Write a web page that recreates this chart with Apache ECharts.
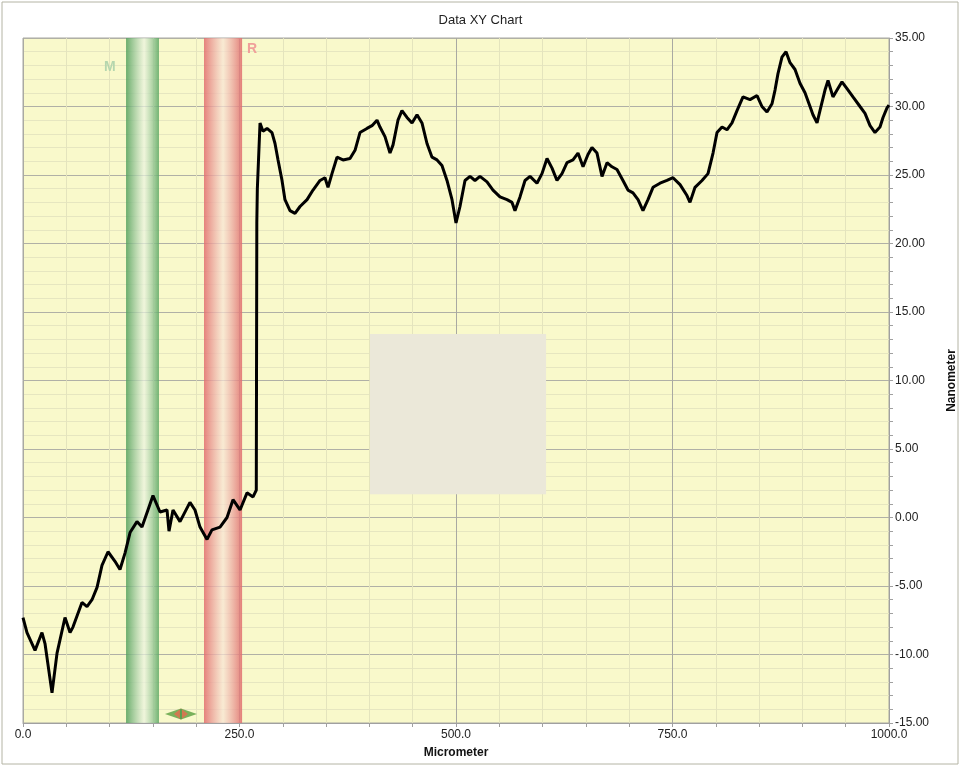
<!DOCTYPE html>
<html>
<head>
<meta charset="utf-8">
<script src="https://cdn.jsdelivr.net/npm/echarts@6/dist/echarts.min.js"></script>
<style>html,body{margin:0;padding:0;background:#fff;}#c{width:961px;height:766px;}</style>
</head>
<body>
<div id="c"></div>
<script>
// ---- data ----
var titleText = 'Data XY Chart';
var xName = 'Micrometer';
var yName = 'Nanometer';
var xValues = [0.0,4.6,13.9,21.9,25.4,33.5,39.3,48.5,54.3,57.7,68.1,73.9,79.7,85.5,91.2,98.2,106.2,112.0,117.8,123.6,131.6,137.4,144.3,150.1,158.2,166.3,168.6,173.2,181.3,192.8,198.6,204.4,212.5,218.2,227.5,235.6,242.5,250.6,258.7,265.6,269.4,270.0,270.6,273.7,277.1,281.8,287.5,291.0,294.5,299.1,302.5,308.3,314.1,319.9,328.0,334.9,343.0,348.7,352.2,356.8,362.6,369.5,377.6,383.4,389.1,397.2,403.0,408.8,412.2,418.0,423.8,427.3,433.0,437.6,443.4,449.2,455.0,460.7,466.5,472.3,478.1,483.8,489.6,495.4,500.0,504.6,510.4,516.2,521.9,527.7,535.8,542.7,550.8,558.9,564.7,568.1,573.9,579.7,585.5,593.5,599.3,605.1,610.9,616.6,622.4,628.2,635.1,640.9,646.7,652.4,657.0,662.8,668.6,674.4,680.1,685.9,692.8,698.6,704.4,710.2,715.9,721.7,727.5,735.6,743.6,750.6,758.7,766.7,770.2,776.0,784.1,791.0,796.8,801.4,807.2,812.9,818.7,824.5,831.4,839.5,847.6,853.3,859.1,864.9,868.4,871.8,876.4,881.1,885.7,891.5,897.2,903.0,908.8,912.2,916.9,920.3,926.1,929.6,935.3,940.0,945.7,951.5,958.4,966.5,972.3,978.1,983.8,989.6,993.1,997.7,1000.0];
var yValues = [-7.3,-8.4,-9.7,-8.4,-9.2,-12.8,-9.9,-7.3,-8.4,-8.0,-6.2,-6.5,-6.0,-5.1,-3.5,-2.5,-3.2,-3.8,-2.6,-1.1,-0.3,-0.7,0.55,1.6,0.4,0.55,-1.0,0.55,-0.3,1.1,0.55,-0.7,-1.6,-0.9,-0.7,0.0,1.3,0.55,1.8,1.5,2.0,21.5,24.0,28.8,28.2,28.4,28.1,27.3,26.1,24.6,23.2,22.4,22.2,22.7,23.2,23.9,24.6,24.8,24.1,25.1,26.3,26.1,26.2,26.8,28.1,28.4,28.6,29.0,28.5,27.8,26.6,27.2,29.0,29.7,29.2,28.8,29.4,28.8,27.3,26.3,26.1,25.7,24.6,23.2,21.5,22.7,24.6,24.9,24.6,24.9,24.5,23.9,23.4,23.2,23.0,22.4,23.4,24.6,24.9,24.4,25.1,26.2,25.5,24.6,25.1,25.9,26.1,26.6,25.6,26.5,27.0,26.6,24.9,25.9,25.6,25.4,24.6,23.9,23.7,23.2,22.4,23.2,24.1,24.4,24.6,24.8,24.3,23.5,23.0,24.1,24.6,25.1,26.6,28.1,28.5,28.3,28.8,29.7,30.7,30.5,30.8,30.0,29.6,30.2,31.2,32.4,33.6,34.0,33.2,32.7,31.7,31.0,30.0,29.4,28.8,29.7,31.2,31.9,30.7,31.2,31.8,31.3,30.7,30.0,29.5,28.6,28.1,28.5,29.2,29.9,30.1];
var xTicks = [0, 250, 500, 750, 1000];
var yTicks = [-15, -10, -5, 0, 5, 10, 15, 20, 25, 30, 35];
var bandM = [119, 157];      // green cursor band (x range)
var bandR = [209, 253];      // red cursor band (x range)
var cursorR = 251.5;         // red cursor line
var panel = [[400.7, 13.4], [604, 1.7]]; // grey box corners
var marker = [182.4, -14.35];            // diamond marker

var lineData = xValues.map(function (x, i) { return [x, yValues[i]]; });
var FONT = '"Liberation Sans", Arial, sans-serif';

var chart = echarts.init(document.getElementById('c'), null, {renderer: 'canvas'});
var option = {
  backgroundColor: '#ffffff',
  animation: false,
  title: {
    text: titleText, left: 'center', top: 9,
    textStyle: {fontFamily: FONT, fontSize: 13, fontWeight: 'normal', color: '#222'}
  },
  grid: {
    left: 23, right: 72, top: 38, bottom: 43,
    containLabel: false, outerBoundsMode: 'none',
    show: true, backgroundColor: '#f9f9cb', borderColor: '#a8a8a0', borderWidth: 1
  },
  xAxis: {
    type: 'value', min: xTicks[0], max: xTicks[xTicks.length - 1], interval: 250,
    name: xName, nameLocation: 'middle', nameGap: 24,
    nameTextStyle: {fontFamily: FONT, fontSize: 12, fontWeight: 'bold', color: '#111'},
    axisLine: {show: true, onZero: false, lineStyle: {color: '#a0a0a0'}},
    axisTick: {show: true, length: 4, lineStyle: {color: '#a0a0a0'}},
    minorTick: {show: true, splitNumber: 5, length: 4, lineStyle: {color: '#a0a0a0'}},
    axisLabel: {fontFamily: FONT, fontSize: 12, color: '#222', margin: 6,
      formatter: function (v) { return v.toFixed(1); }},
    splitLine: {show: true, lineStyle: {color: '#a9a9a2', width: 1}},
    minorSplitLine: {show: true, lineStyle: {color: '#e4e4bd', width: 1}}
  },
  yAxis: {
    type: 'value', position: 'right', min: yTicks[0], max: yTicks[yTicks.length - 1], interval: 5,
    name: yName, nameLocation: 'middle', nameGap: 57, nameRotate: 90,
    nameTextStyle: {fontFamily: FONT, fontSize: 12, fontWeight: 'bold', color: '#111'},
    axisLine: {show: true, onZero: false, lineStyle: {color: '#a0a0a0'}},
    axisTick: {show: true, length: 4, lineStyle: {color: '#a0a0a0'}},
    minorTick: {show: true, splitNumber: 5, length: 4, lineStyle: {color: '#a0a0a0'}},
    axisLabel: {fontFamily: FONT, fontSize: 12, color: '#222', margin: 6,
      formatter: function (v) { return v.toFixed(2); }},
    splitLine: {show: true, lineStyle: {color: '#b0b0a6', width: 1}},
    minorSplitLine: {show: true, lineStyle: {color: '#e6e6c0', width: 1}}
  },
  series: [
    {
      type: 'line', name: 'profile', data: lineData, showSymbol: false, z: 2,
      lineStyle: {color: '#000', width: 3}
    },
    {
      type: 'line', name: 'overlay', data: [], z: 3, silent: true,
      markArea: {
        silent: true,
        data: [
          [{xAxis: bandM[0], yAxis: yTicks[0], itemStyle: {color: {type: 'linear', x: 0, y: 0, x2: 1, y2: 0, colorStops: [
            {offset: 0, color: 'rgba(82,160,92,0.85)'},
            {offset: 0.55, color: 'rgba(236,244,226,0.7)'},
            {offset: 1, color: 'rgba(92,168,100,0.85)'}]}}},
           {xAxis: bandM[1], yAxis: yTicks[yTicks.length - 1]}],
          [{xAxis: bandR[0], yAxis: yTicks[0], itemStyle: {color: {type: 'linear', x: 0, y: 0, x2: 1, y2: 0, colorStops: [
            {offset: 0, color: 'rgba(226,110,110,0.85)'},
            {offset: 0.5, color: 'rgba(248,228,214,0.7)'},
            {offset: 1, color: 'rgba(224,108,108,0.85)'}]}}},
           {xAxis: bandR[1], yAxis: yTicks[yTicks.length - 1]}],
          [{xAxis: panel[0][0], yAxis: panel[0][1], itemStyle: {color: '#ebe8d9', opacity: 1}},
           {xAxis: panel[1][0], yAxis: panel[1][1]}]
        ]
      },
      markLine: {
        silent: true, symbol: ['none', 'none'], label: {show: false},
        lineStyle: {color: '#d05a5a', width: 2, type: 'solid'},
        data: [[{coord: [cursorR, yTicks[0]]}, {coord: [cursorR, yTicks[yTicks.length - 1] + 0.2]}]]
      },
      markPoint: {
        silent: true,
        data: [
          {coord: marker, symbol: 'diamond', symbolSize: [32, 11], itemStyle: {color: '#6aa84f', opacity: 0.9}, label: {show: false}},
          {coord: marker, symbol: 'diamond', symbolSize: [14, 11], itemStyle: {color: '#e07050', opacity: 0.85}, label: {show: false}},
          {coord: marker, symbol: 'rect', symbolSize: [2, 10], itemStyle: {color: '#5aa050'}, label: {show: false}}
        ]
      }
    }
  ],
  graphic: [
    {type: 'rect', shape: {x: 2, y: 2, width: 956, height: 762}, style: {fill: 'none', stroke: '#b4b4a4', lineWidth: 1}, z: 100, silent: true},
    {type: 'text', x: 104, y: 60, style: {text: 'M', fill: '#b5d6ae', font: 'bold 14px ' + FONT}, z: 100, silent: true},
    {type: 'text', x: 247, y: 42, style: {text: 'R', fill: '#f0a09a', font: 'bold 14px ' + FONT}, z: 100, silent: true}
  ]
};
chart.setOption(option);
</script>
</body>
</html>
